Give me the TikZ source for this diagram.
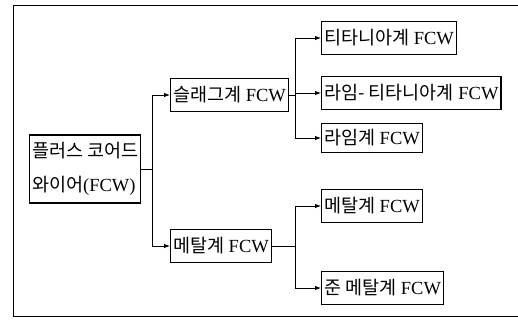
\documentclass[tikz,border=0pt]{standalone}
\usepackage{fontspec}
\setmainfont{Liberation Serif}
\newfontfamily\kr{Noto Sans CJK KR}
\usetikzlibrary{arrows.meta, positioning}

\tikzset{
  fcwbox/.style={draw, line width=1.1pt, anchor=west, inner xsep=2.5pt,
    minimum height=33pt, font=\fontsize{18.5}{34}\selectfont},
  link/.style={line width=0.9pt},
  feed/.style={link, -{Latex[length=6pt, width=4.5pt]}}
}

\begin{document}
\begin{tikzpicture}[x=1pt, y=-1pt]
  \useasboundingbox (0,0) rectangle (518,323);

  % Outer frame (right side runs off the page)
  \draw[line width=0.8pt] (518,5) -- (13,5) -- (13,316) -- (518,316);

  % Boxes
  \node[fcwbox, align=left, minimum height=68pt] (root) at (29,169)
    {{\kr 플러스 코어드}\\{\kr 와이어}(FCW)};
  \node[fcwbox] (slag) at (170,95) {{\kr 슬래그계} FCW};
  \node[fcwbox] (metal) at (170,246) {{\kr 메탈계} FCW};

  \node[fcwbox] (ti) at (321,38) {{\kr 티타니아계} FCW};
  \node[fcwbox] (limeti) at (321,93) {{\kr 라임- 티타니아계} FCW};
  \node[fcwbox, minimum height=29pt] (lime) at (321,138) {{\kr 라임계} FCW};
  \node[fcwbox] (metaltwo) at (321,206) {{\kr 메탈계} FCW};
  \node[fcwbox] (semi) at (321,288) {{\kr 준 메탈계} FCW};

  % Branch points
  \coordinate (j1) at (152,169);
  \coordinate (j2) at (295,95);
  \coordinate (j3) at (295,246);

  % Connectors
  \draw[link] (root.east) -- (j1);
  \draw[feed] (j1) |- (slag.west);
  \draw[feed] (j1) |- (metal.west);

  \draw[link] (slag.east) -- (j2);
  \draw[feed] (j2) |- (ti.west);
  \draw[feed] (j2) |- (limeti.west);
  \draw[feed] (j2) |- (lime.west);

  \draw[link] (metal.east) -- (j3);
  \draw[feed] (j3) |- (metaltwo.west);
  \draw[feed] (j3) |- (semi.west);
\end{tikzpicture}
\end{document}
